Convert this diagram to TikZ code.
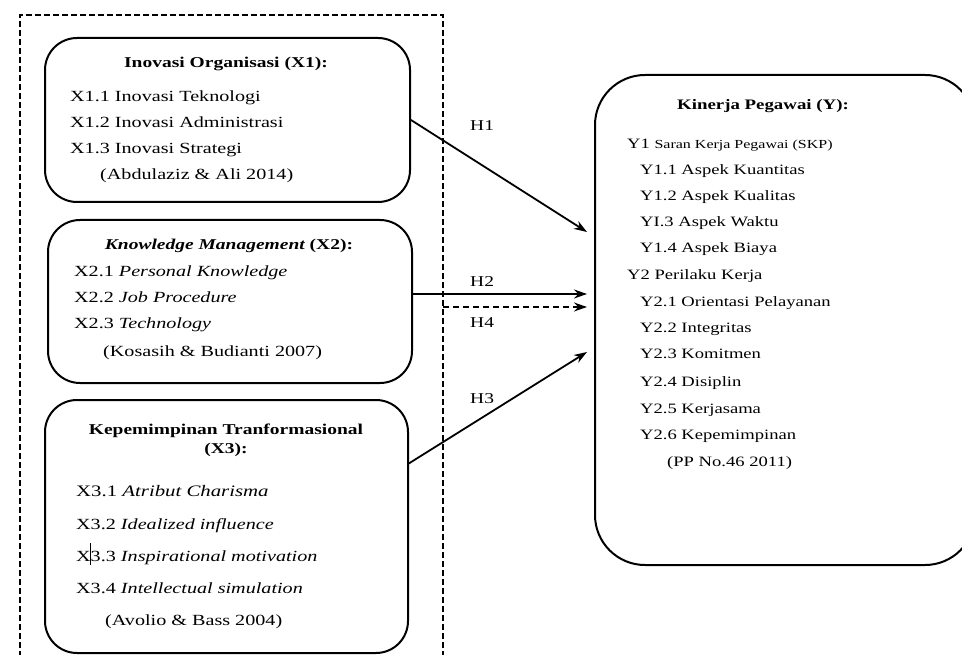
\documentclass[tikz,border=0pt]{standalone}
\usepackage{fontspec}
\setmainfont{Liberation Serif}[FakeStretch=1.3]
\usetikzlibrary{arrows.meta}
\tikzset{
  box/.style={draw, line width=2pt, rounded corners=32pt, fill=white, inner sep=0},
  bigbox/.style={draw, line width=2pt, rounded corners=50pt, fill=white, inner sep=0},
  txt/.style={anchor=base west, inner sep=0, font=\fontsize{15.5}{18}\selectfont},
  ttl/.style={anchor=base, inner sep=0, font=\fontsize{15}{18}\selectfont\bfseries},
  ytxt/.style={anchor=base west, inner sep=0, font=\fontsize{14.3}{17}\selectfont},
  x3txt/.style={anchor=base west, inner sep=0, font=\fontsize{16}{19}\selectfont},
  hlab/.style={anchor=base west, inner sep=0, font=\fontsize{15}{18}\selectfont},
  arr/.style={line width=1.8pt, -{Stealth[length=13pt,width=9pt]}},
  darr/.style={line width=1.5pt, dash pattern=on 6pt off 4pt, -{Stealth[length=13pt,width=9pt]}},
  frame/.style={draw, line width=1.4pt, dash pattern=on 6pt off 3pt, inner sep=0}
}
\begin{document}
\begin{tikzpicture}[x=1pt,y=-1pt]
\useasboundingbox (0,0) rectangle (962,655);
\clip (0,0) rectangle (962,655);
\fill[white] (0,0) rectangle (962,655);

% dashed frame
\node[frame, minimum width=423pt, minimum height=660pt] (frame) at (231.5,345) {};

% boxes
\node[box, minimum width=365pt, minimum height=164pt] (b1) at (227.5,120) {};
\node[box, minimum width=364pt, minimum height=163pt] (b2) at (230,301.5) {};
\node[box, minimum width=363pt, minimum height=253pt] (b3) at (226.5,526.5) {};
\node[bigbox, minimum width=380pt, minimum height=490pt] (by) at (785,320) {};

% box 1 text
\node[ttl] (t1) at (226,68) {Inovasi Organisasi (X1):};
\node[txt] (t11) at (70,102) {X1.1 Inovasi Teknologi};
\node[txt] (t12) at (70,128) {X1.2 Inovasi Administrasi};
\node[txt] (t13) at (70,154) {X1.3 Inovasi Strategi};
\node[txt] (t14) at (100,180) {(Abdulaziz \& Ali 2014)};

% box 2 text
\node[ttl] (t2) at (229,250) {\itshape Knowledge Management\upshape{} (X2):};
\node[txt] (t21) at (74,277) {X2.1 \textit{Personal Knowledge}};
\node[txt] (t22) at (74,303) {X2.2 \textit{Job Procedure}};
\node[txt] (t23) at (74,328) {X2.3 \textit{Technology}};
\node[txt] (t24) at (103,356) {(Kosasih \& Budianti 2007)};

% box 3 text
\node[ttl] (t3) at (226,434) {Kepemimpinan Tranformasional};
\node[ttl] (t3b) at (226,453) {(X3):};
\node[x3txt] (t31) at (76,496) {X3.1 \textit{Atribut Charisma}};
\node[x3txt, font=\fontsize{15.5}{18}\selectfont] (t32) at (76,529) {X3.2 \textit{Idealized influence}};
\node[x3txt, font=\fontsize{15.5}{18}\selectfont] (t33) at (76,561) {X3.3 \textit{Inspirational motivation}};
\node[x3txt, font=\fontsize{15.5}{18}\selectfont] (t34) at (76,593) {X3.4 \textit{Intellectual simulation}};
\node[txt] (t35) at (105,625) {(Avolio \& Bass 2004)};
\draw[line width=0.7pt] (90,543) -- (90,565);

% box Y text
\node[ttl, font=\fontsize{14.5}{17}\selectfont\bfseries] (ty) at (763,110) {Kinerja Pegawai (Y):};
\node[ytxt] (y1) at (627,149) {Y1 {\fontsize{12.3}{15}\selectfont Saran Kerja Pegawai (SKP)}};
\node[ytxt] (y11) at (640,175) {Y1.1 Aspek Kuantitas};
\node[ytxt] (y12) at (640,201) {Y1.2 Aspek Kualitas};
\node[ytxt] (y13) at (640,227) {YI.3 Aspek Waktu};
\node[ytxt] (y14) at (640,253) {Y1.4 Aspek Biaya};
\node[ytxt] (y2) at (627,280) {Y2 Perilaku Kerja};
\node[ytxt] (y21) at (640,307) {Y2.1 Orientasi Pelayanan};
\node[ytxt] (y22) at (640,333) {Y2.2 Integritas};
\node[ytxt] (y23) at (640,359) {Y2.3 Komitmen};
\node[ytxt] (y24) at (640,386) {Y2.4 Disiplin};
\node[ytxt] (y25) at (640,413) {Y2.5 Kerjasama};
\node[ytxt] (y26) at (640,439) {Y2.6 Kepemimpinan};
\node[ytxt] (y27) at (667,466) {(PP No.46 2011)};

% connectors
\coordinate (e1) at (587,232);
\coordinate (s2) at (412,294);
\coordinate (e2) at (587,294);
\coordinate (s4) at (443,307);
\coordinate (e4) at (587,307);
\coordinate (s3) at (408,464);
\coordinate (e3) at (587,352);
\draw[arr] (b1.east) -- (e1);
\draw[arr] (s2) -- (e2);
\draw[darr] (s4) -- (e4);
\draw[arr] (s3) -- (e3);

\node[hlab] (h1) at (470,131) {H1};
\node[hlab] (h2) at (470,287) {H2};
\node[hlab] (h4) at (470,327) {H4};
\node[hlab] (h3) at (470,403) {H3};
\end{tikzpicture}
\end{document}
